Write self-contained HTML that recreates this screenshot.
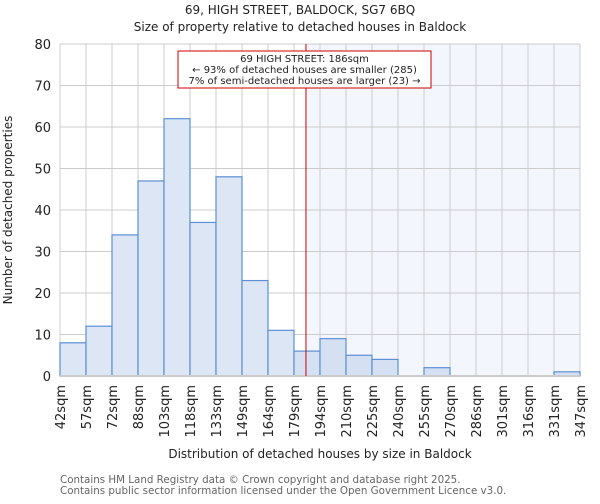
<!DOCTYPE html>
<html><head><meta charset="utf-8"><style>
body{margin:0;background:#fff;font-family:"DejaVu Sans","Liberation Sans",sans-serif}
</style></head><body>
<svg id="c" width="600" height="500" xmlns="http://www.w3.org/2000/svg" font-family="DejaVu Sans, Liberation Sans, sans-serif">
<text x="300" y="14" text-anchor="middle" font-size="12" fill="#222">69, HIGH STREET, BALDOCK, SG7 6BQ</text>
<text x="300" y="31" text-anchor="middle" font-size="12" fill="#222">Size of property relative to detached houses in Baldock</text>
<text transform="translate(12,210) rotate(-90)" text-anchor="middle" font-size="12" fill="#222">Number of detached properties</text>
<text x="320" y="458" text-anchor="middle" font-size="12" fill="#222">Distribution of detached houses by size in Baldock</text>
<text x="60" y="483" font-size="10.3" fill="#666">Contains HM Land Registry data © Crown copyright and database right 2025.</text>
<text x="60" y="494" font-size="10.3" fill="#666">Contains public sector information licensed under the Open Government Licence v3.0.</text>
<g id="plot"></g>
</svg>
<script>
const binLabels=["42sqm","57sqm","72sqm","88sqm","103sqm","118sqm","133sqm","149sqm","164sqm","179sqm","194sqm","210sqm","225sqm","240sqm","255sqm","270sqm","286sqm","301sqm","316sqm","331sqm","347sqm"];
const counts=[8,12,34,47,62,37,48,23,11,6,9,5,4,0,2,0,0,0,0,1];
const yTicks=[0,10,20,30,40,50,60,70,80];
const markerBin=9.46;
const NS="http://www.w3.org/2000/svg";
const g=document.getElementById('plot');
const X0=60,X1=580,Y0=376,Y1=44,N=counts.length;
const bw=(X1-X0)/N;
const xs=i=>X0+i*bw;
const ys=v=>Y0-(v/80)*(Y0-Y1);
function el(t,a){const e=document.createElementNS(NS,t);for(const k in a)e.setAttribute(k,a[k]);g.appendChild(e);return e;}
const mx=xs(markerBin);
let s=el('rect',{x:mx,y:Y1,width:X1-mx,height:Y0-Y1,fill:'#f3f6fd'});


yTicks.forEach(t=>{
 const l=el('line',{x1:X0,x2:X1,y1:ys(t),y2:ys(t),stroke:'#ccc','stroke-width':1});
 
 
 const tx=el('text',{x:X0-9,y:ys(t)+5,'text-anchor':'end','font-size':13,fill:'#222'});
 tx.textContent=t;
 
 
});
binLabels.forEach((lb,i)=>{
 const l=el('line',{x1:xs(i),x2:xs(i),y1:Y1,y2:Y0,stroke:'#ccc','stroke-width':1});
 
 
 const tx=el('text',{transform:`translate(${xs(i)+5},${Y0+9}) rotate(-90)`,'text-anchor':'end','font-size':13,fill:'#222'});
 tx.textContent=lb;
 
 
});
counts.forEach((v,i)=>{
 if(v<=0)return;
 const r=el('rect',{x:xs(i),y:ys(v),width:bw,height:Y0-ys(v),fill:i<9?'#dde6f5':'#d5e0f3',stroke:'#5b8fd6','stroke-width':1.2});
 
 
});
const ax=el('line',{x1:X0,x2:X1,y1:Y0,y2:Y0,stroke:'#ccc','stroke-width':2});


const ml=el('line',{x1:mx,x2:mx,y1:Y1,y2:Y0,stroke:'#c00','stroke-width':1});


const bx=el('rect',{x:178,y:51,width:253,height:37,fill:'#fff',stroke:'#c00','stroke-width':1});


["69 HIGH STREET: 186sqm","← 93% of detached houses are smaller (285)","7% of semi-detached houses are larger (23) →"].forEach((t,i)=>{
 const tx=el('text',{x:304.5,y:62+i*11,'text-anchor':'middle','font-size':10,fill:'#222'});
 tx.textContent=t;
 
 
});
</script>
</body></html>
